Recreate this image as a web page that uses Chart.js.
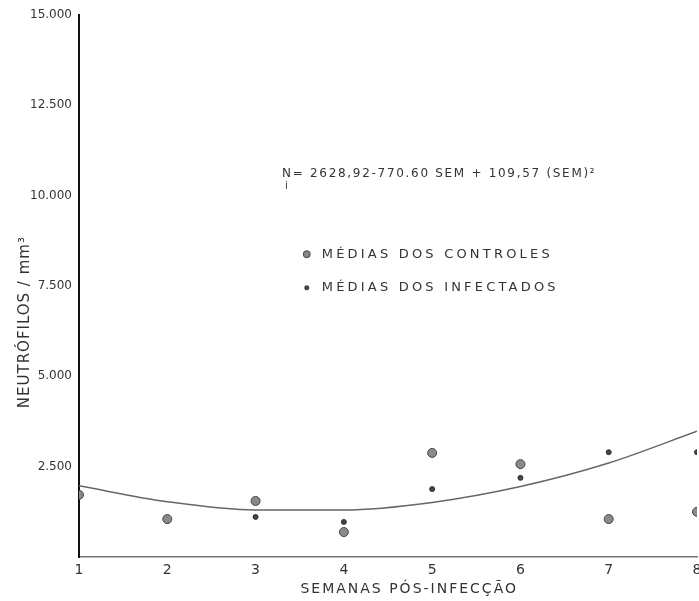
<!DOCTYPE html>
<html>
<head>
<meta charset="utf-8">
<script src="https://cdn.jsdelivr.net/npm/chart.js@4.4.0/dist/chart.umd.min.js"></script>
<style>
  html, body { margin: 0; padding: 0; overflow: hidden; background: #fff; }
  #boite { width: 718px; height: 601px; position: relative; }
</style>
</head>
<body>
<div id="boite"><canvas id="graphe"></canvas></div>
<script>
// semaines pós-infecção
const semanas = [1, 2, 3, 4, 5, 6, 7, 8];
// médias (neutrófilos / mm3)
const mediasControles = [1720, 1050, 1550, 690, 2880, 2570, 1050, 1250];
const mediasInfectados = [1700, 1000, 1110, 970, 1880, 2190, 2900, 2900];
// courbe ajustée, lue à chaque semaine
const courbeAjustada = [1970, 1530, 1300, 1300, 1510, 1950, 2600, 3480];
const ticksY = [0, 2500, 5000, 7500, 10000, 12500, 15000];

const equation = 'N= 2628,92-770.60 SEM + 109,57 (SEM)²';
const tituloY = 'NEUTRÓFILOS / mm³';
const tituloX = 'SEMANAS PÓS-INFECÇÃO';
const legendes = ['MÉDIAS DOS CONTROLES', 'MÉDIAS DOS INFECTADOS'];

function formatarMilhar(v) {
    return v.toLocaleString('de-DE');
}

function points(valeurs) {
    return semanas.map((s, i) => ({ x: s, y: valeurs[i] }));
}

// textes libres : titres d'axes, équation, légende
const textes = {
    id: 'textes',
    afterDraw(chart) {
        const ctx = chart.ctx;
        const sx = chart.scales.x;
        const sy = chart.scales.y;
        ctx.save();
        ctx.fillStyle = '#333';
        ctx.textBaseline = 'middle';

        // titre axe Y
        ctx.save();
        ctx.translate(25, sy.getPixelForValue(6500));
        ctx.rotate(-Math.PI / 2);
        ctx.textAlign = 'center';
        ctx.font = '15px "DejaVu Sans"';
        ctx.letterSpacing = '1px';
        ctx.fillText(tituloY, 0, 0);
        ctx.restore();

        // titre axe X
        ctx.textAlign = 'center';
        ctx.font = '14px "DejaVu Sans"';
        ctx.letterSpacing = '2px';
        ctx.fillText(tituloX, sx.getPixelForValue(4.74), 589);

        // équation
        ctx.textAlign = 'left';
        ctx.font = '12px "DejaVu Sans"';
        ctx.letterSpacing = '1.7px';
        const ex = sx.getPixelForValue(3.3);
        const ey = sy.getPixelForValue(10600);
        ctx.fillText(equation, ex, ey);
        ctx.font = '10px "DejaVu Sans"';
        ctx.fillText('i', ex + 3, ey + 12);

        // légende
        ctx.font = '13px "DejaVu Sans"';
        ctx.letterSpacing = '3.2px';
        const lx = sx.getPixelForValue(3.58);
        const ly = [sy.getPixelForValue(8380), sy.getPixelForValue(7450)];
        ctx.fillText(legendes[0], lx + 15, ly[0]);
        ctx.fillText(legendes[1], lx + 15, ly[1]);
        ctx.beginPath();
        ctx.arc(lx, ly[0], 3.5, 0, Math.PI * 2);
        ctx.fillStyle = '#888';
        ctx.fill();
        ctx.strokeStyle = '#444';
        ctx.lineWidth = 1;
        ctx.stroke();
        ctx.beginPath();
        ctx.arc(lx, ly[1], 2.5, 0, Math.PI * 2);
        ctx.fillStyle = '#444';
        ctx.fill();
        ctx.restore();
    }
};

const ctx = document.getElementById('graphe').getContext('2d');
const monGraphe = new Chart(ctx, {
    type: 'scatter',
    data: {
        datasets: [{
            label: 'Curva ajustada',
            data: points(courbeAjustada),
            showLine: true,
            borderColor: '#666',
            borderWidth: 1.5,
            pointRadius: 0,
            cubicInterpolationMode: 'monotone',
            fill: false
        }, {
            label: legendes[0],
            data: points(mediasControles),
            pointRadius: 4.5,
            backgroundColor: '#8a8a8a',
            borderColor: '#444',
            borderWidth: 1
        }, {
            label: legendes[1],
            data: points(mediasInfectados),
            pointRadius: 2.5,
            backgroundColor: '#444',
            borderColor: '#333',
            borderWidth: 1
        }]
    },
    options: {
        responsive: true,
        maintainAspectRatio: false,
        animation: false,
        layout: { padding: { left: 0, right: 21, top: 15, bottom: 0 } },
        plugins: {
            legend: { display: false },
            tooltip: { enabled: false }
        },
        scales: {
            x: {
                type: 'linear',
                min: 1,
                max: 8,
                grid: { display: false, drawTicks: true, tickLength: 0 },
                border: { display: true, color: '#777', width: 1.5 },
                ticks: {
                    stepSize: 1,
                    color: '#333',
                    font: { family: 'DejaVu Sans', size: 14 },
                    padding: 5,
                    maxRotation: 0
                },
                afterFit(scale) { scale.height = 44; }
            },
            y: {
                type: 'linear',
                min: 0,
                max: 15000,
                grid: { display: false, tickLength: 4 },
                border: { display: true, color: '#111', width: 2 },
                afterBuildTicks(scale) {
                    scale.ticks = ticksY.map(v => ({ value: v }));
                },
                ticks: {
                    color: '#333',
                    font: { family: 'DejaVu Sans', size: 12 },
                    padding: 3,
                    callback: v => v === 0 ? '' : formatarMilhar(v)
                },
                afterFit(scale) { scale.width = 79; }
            }
        }
    },
    plugins: [textes]
});
</script>
</body>
</html>
